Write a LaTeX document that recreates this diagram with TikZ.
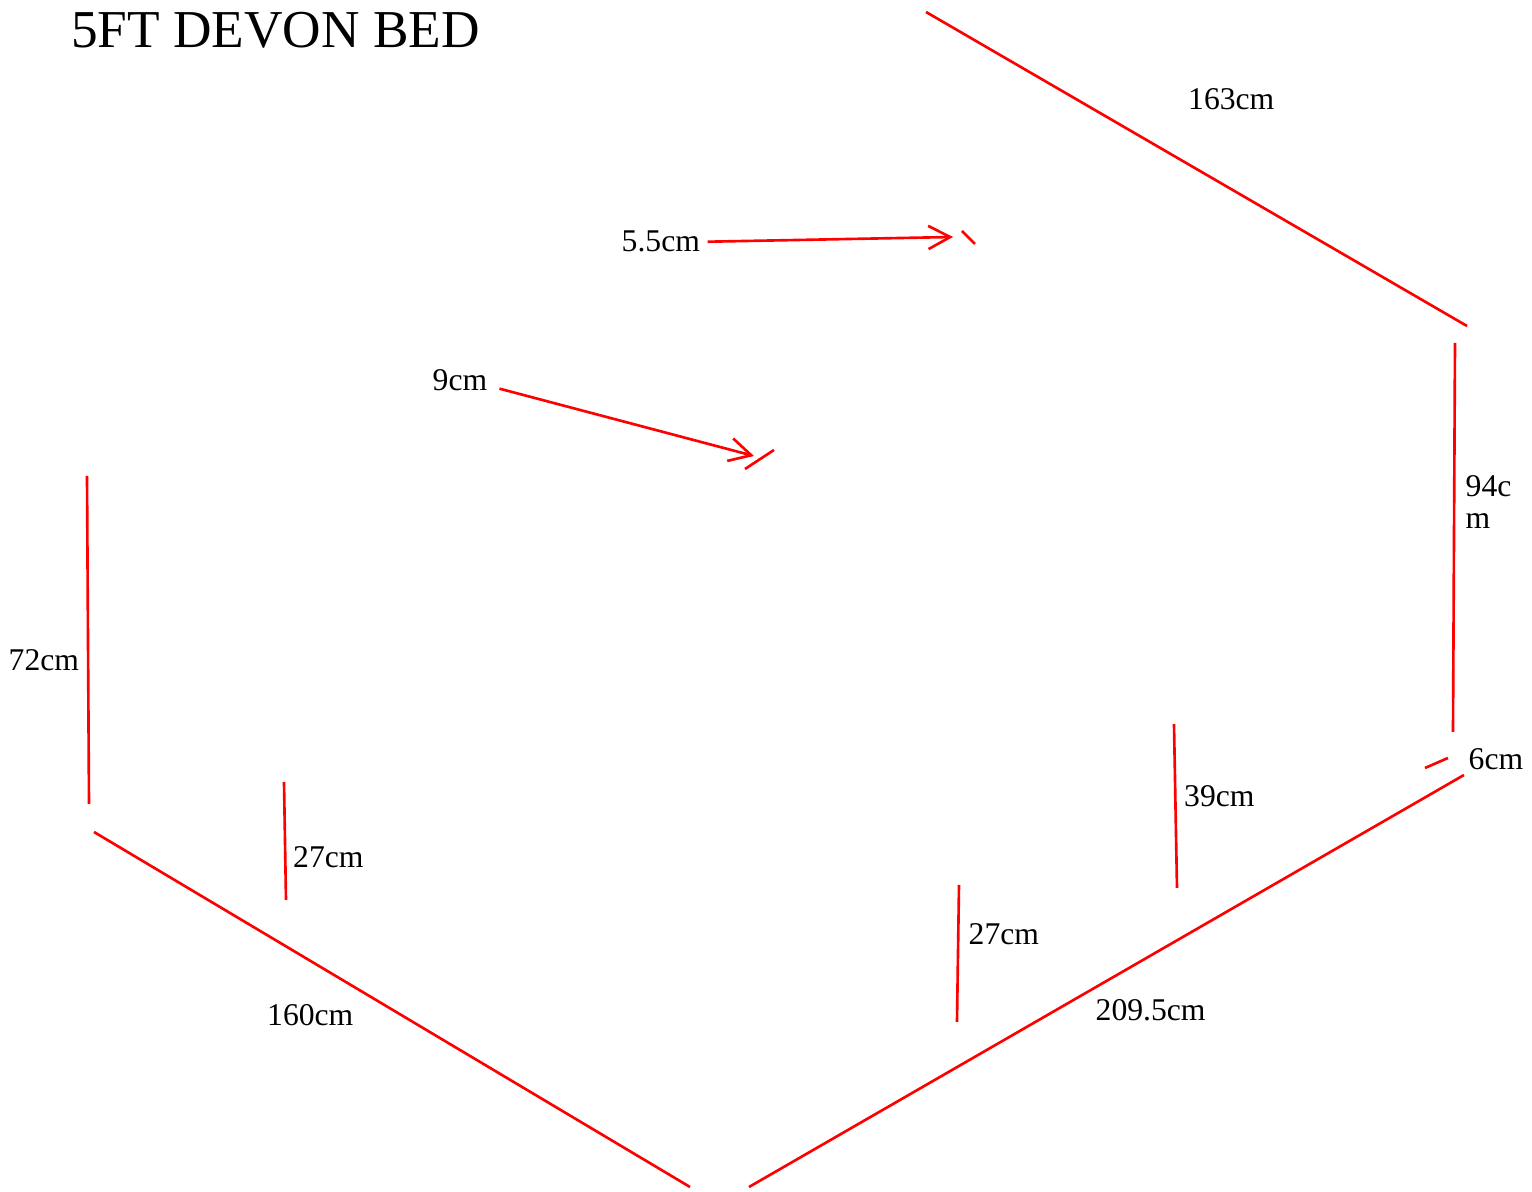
\documentclass[tikz,border=0pt]{standalone}
\usepackage{fontspec}
\setmainfont{Liberation Serif}
\usetikzlibrary{arrows.meta}
\definecolor{dimred}{HTML}{FF0000}
\tikzset{
  dimline/.style={draw=dimred, line width=0.75pt},
  dimarrow/.style={dimline, -{Straight Barb[length=6.2pt,width=6.6pt,line width=0.75pt]}},
  lab/.style={anchor=base west, inner sep=0pt, font=\fontsize{9}{9}\selectfont},
  labt/.style={anchor=base west, inner sep=0pt, font=\fontsize{15.15}{15.15}\selectfont},
}

\begin{document}
\begin{tikzpicture}[x=0.01cm,y=-0.01cm]
  \useasboundingbox (0,0) rectangle (1532,1192);
  \node[labt] (title) at (70.5,48) {5FT DEVON BED};
  % outline
  \draw[dimline] (926,12) -- (1467,326);
  \draw[dimline] (1455,343) -- (1453,732);
  \draw[dimline] (1464,775) -- (749,1187);
  \draw[dimline] (94,832) -- (690,1187);
  \draw[dimline] (87,476) -- (89,804);
  % inner heights
  \draw[dimline] (284,782) -- (286,900);
  \draw[dimline] (1174,724) -- (1177,888);
  \draw[dimline] (959,885) -- (957,1022);
  % small ticks
  \draw[dimline] (1425,768) -- (1448,758);
  \draw[dimline] (962,231) -- (975,244);
  \draw[dimline] (745,469) -- (774,450);
  % labels
  \node[lab] (l163) at (1187.5,110) {163cm};
  \node[lab] (l55) at (621,252) {5.5cm};
  \node[lab] (l9) at (432,391) {9cm};
  \node[lab] (l94a) at (1465,497) {94c};
  \node[lab] (l94b) at (1465,529) {m};
  \node[lab] (l72) at (8,671) {72cm};
  \node[lab] (l6) at (1468,770) {6cm};
  \node[lab] (l39) at (1183.5,807) {39cm};
  \node[lab] (l27a) at (292.5,868) {27cm};
  \node[lab] (l27b) at (968,945) {27cm};
  \node[lab] (l160) at (266.5,1026) {160cm};
  \node[lab] (l209) at (1095,1021) {209.5cm};
  % arrows
  \coordinate (tip55) at (953,237);
  \coordinate (tip9) at (754,456);
  \draw[dimarrow, shorten <=2pt] (l55.east) -- (tip55);
  \draw[dimarrow, shorten <=3.4pt] (l9.-10) -- (tip9);
\end{tikzpicture}
\end{document}
